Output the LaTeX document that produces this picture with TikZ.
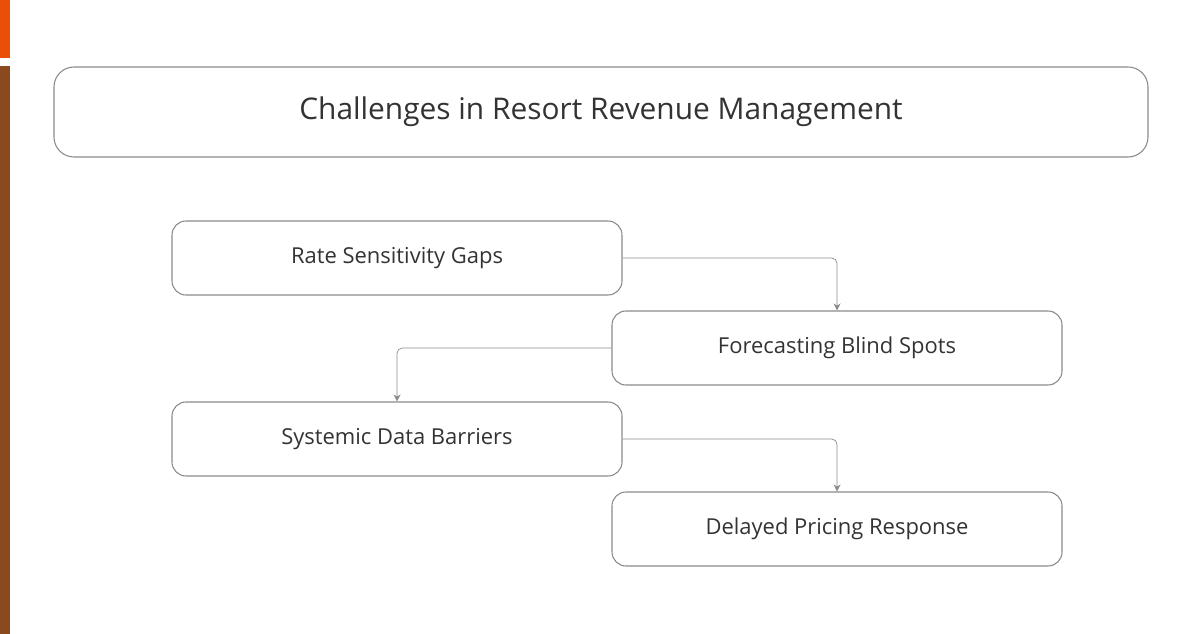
\documentclass[tikz,border=0pt]{standalone}
\usepackage{fontspec}
\setmainfont{Open Sans}
\usetikzlibrary{arrows.meta}
\definecolor{txt}{HTML}{333333}
\definecolor{ln}{HTML}{8A8A8A}
\definecolor{orng}{HTML}{E8500A}
\definecolor{brwn}{HTML}{8B4A1E}

\begin{document}
\begin{tikzpicture}[
      x = 0.02cm, y = -0.02cm,
      > = {Stealth[length=4pt, width=4pt]}, % arrow head style
      semithick, % line style
    ]

    \tikzstyle{every node}=[text = txt]
    \tikzstyle{step box}=[
      draw = ln,
      rounded corners = 14*0.02cm,
      minimum width = 450*0.02cm,
      minimum height = 74*0.02cm,
      font = \fontsize{12.5}{15}\selectfont
    ]

    \useasboundingbox (0, 0) rectangle (1202, 634);
    \fill[orng] (0, 0) rectangle (10, 58);
    \fill[brwn] (0, 66) rectangle (10, 634);

    \node[draw = ln, rounded corners = 20*0.02cm, minimum width = 1094*0.02cm,
      minimum height = 90*0.02cm, font = \fontsize{17}{20}\selectfont]
      (title) at (601, 112) {Challenges in Resort Revenue Management};

    \node[step box] (rate) at (397, 258) {Rate Sensitivity Gaps};
    \node[step box] (fore) at (837, 348) {Forecasting Blind Spots};
    \node[step box] (data) at (397, 439) {Systemic Data Barriers};
    \node[step box] (delay) at (837, 529) {Delayed Pricing Response};

    \draw[->, ln, thin, rounded corners = 3pt] (rate.east) -| (fore.north);
    \draw[->, ln, thin, rounded corners = 3pt] (fore.west) -| (data.north);
    \draw[->, ln, thin, rounded corners = 3pt] (data.east) -| (delay.north);
  \end{tikzpicture}
\end{document}
